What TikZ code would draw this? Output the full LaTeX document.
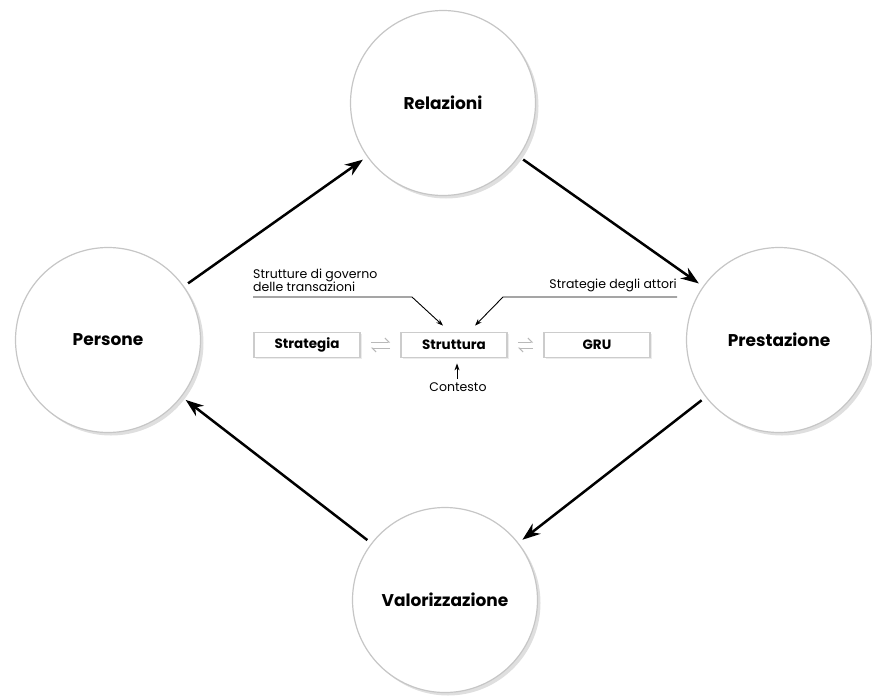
\documentclass[tikz,border=0pt]{standalone}
\usepackage{fontspec}
\setmainfont{Poppins}
\usetikzlibrary{arrows.meta,shadows}

\tikzset{
  ciclo/.style={circle, draw=gray!45, line width=1.2pt, fill=white, minimum size=185pt, inner sep=0pt,
    font=\fontsize{17}{19}\selectfont\bfseries,
    drop shadow={opacity=0.25, shadow xshift=3pt, shadow yshift=-3pt}},
  casella/.style={draw=gray!40, line width=1.8pt, fill=white, minimum width=106pt, minimum height=25pt,
    inner sep=0pt, font=\fontsize{13.5}{15}\selectfont\bfseries,
    drop shadow={opacity=0.15, shadow xshift=1.5pt, shadow yshift=-1.5pt}},
  freccia/.style={line width=2.5pt, -{Stealth[length=18pt,width=13pt]}, shorten <=5pt, shorten >=5pt},
  nota/.style={font=\fontsize{12.5}{13}\selectfont, inner sep=0pt, align=left},
  rinvio/.style={line width=0.9pt, -{Stealth[length=7pt,width=5pt]}},
  scambio/.style={gray!55, line width=1pt}
}

\begin{document}
\begin{tikzpicture}[x=1pt,y=-1pt]
\useasboundingbox (0,0) rectangle (872,696);

\node[ciclo] (rel) at (443,103) {Relazioni};
\node[ciclo] (pers) at (108,340) {Persone};
\node[ciclo] (prest) at (779,340) {Prestazione};
\node[ciclo] (val) at (445,600) {Valorizzazione};

\draw[freccia] (pers) -- (rel);
\draw[freccia] (rel) -- (prest);
\draw[freccia] (prest) -- (val);
\draw[freccia] (val) -- (pers);

\node[casella] (strat) at (307,345) {Strategia};
\node[casella] (strut) at (454,345) {Struttura};
\node[casella] (gru) at (597,345) {GRU};

\draw[scambio, -{Straight Barb[left,length=4pt]}] ([xshift=10pt,yshift=3pt]strat.east) -- ([xshift=-10pt,yshift=3pt]strut.west);
\draw[scambio, -{Straight Barb[left,length=4pt]}] ([xshift=-10pt,yshift=-3pt]strut.west) -- ([xshift=10pt,yshift=-3pt]strat.east);
\draw[scambio, -{Straight Barb[left,length=4pt]}] ([xshift=10pt,yshift=3pt]strut.east) -- ([xshift=-10pt,yshift=3pt]gru.west);
\draw[scambio, -{Straight Barb[left,length=4pt]}] ([xshift=-10pt,yshift=-3pt]gru.west) -- ([xshift=10pt,yshift=-3pt]strut.east);

\node[nota, anchor=south west] (gov) at (253,292) {Strutture di governo\\delle transazioni};
\coordinate (govk) at (412,297);
\draw[rinvio] (gov.south west |- govk) -- (govk) -- ([xshift=-11pt,yshift=6pt]strut.north);

\node[nota, anchor=south east] (att) at (677,292) {Strategie degli attori};
\coordinate (attk) at (503,297);
\draw[rinvio] (att.south east |- attk) -- (attk) -- ([xshift=21pt,yshift=6pt]strut.north);

\node[nota, anchor=north] (cont) at (458,382) {Contesto};
\coordinate (contk) at (457,379);
\draw[rinvio] (contk) -- ([yshift=-5pt]contk |- strut.south);
\end{tikzpicture}
\end{document}
